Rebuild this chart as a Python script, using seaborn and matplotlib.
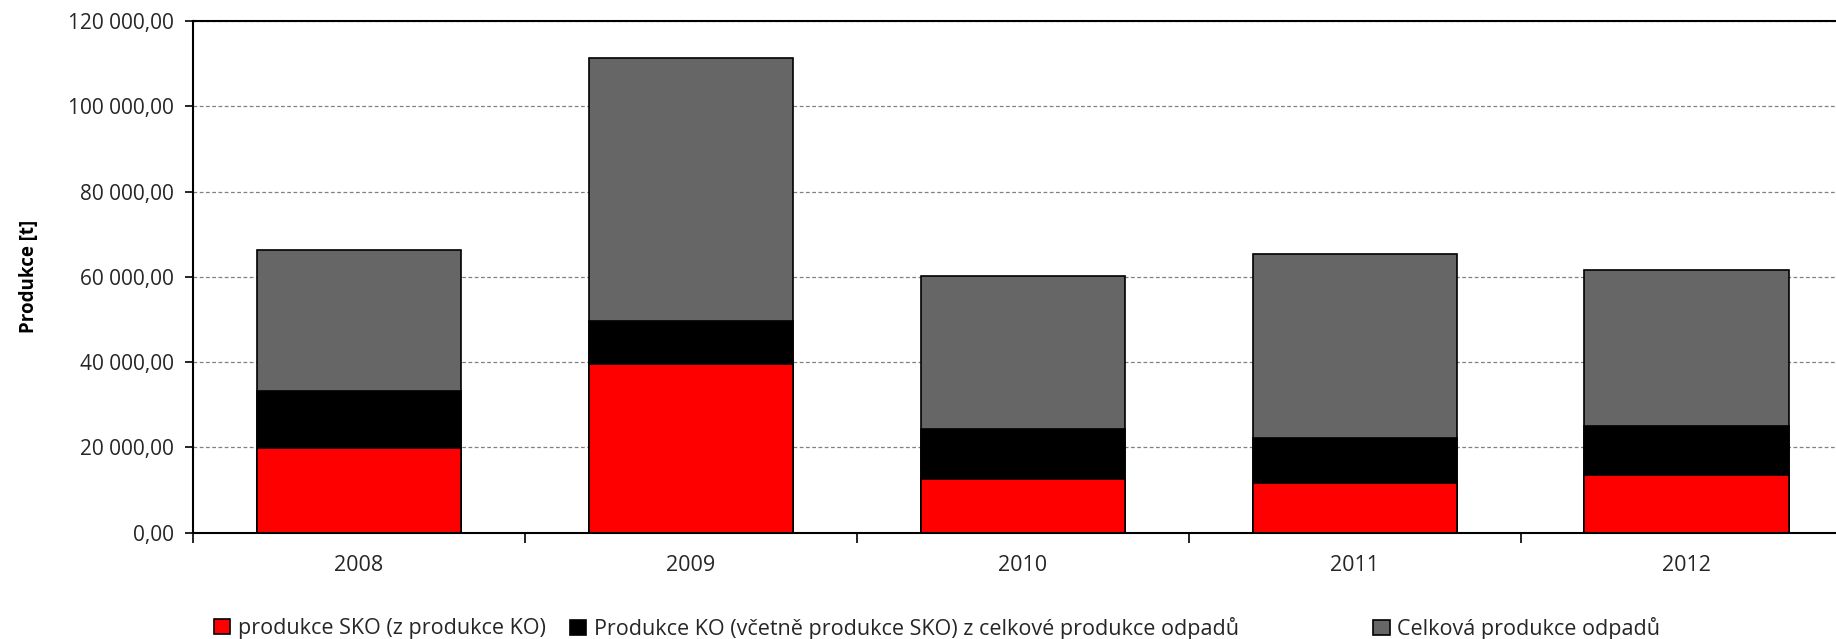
import numpy as np
import pandas as pd
import matplotlib.pyplot as plt
import seaborn as sns
from matplotlib.ticker import FuncFormatter, FixedLocator
from matplotlib.patches import Patch

years = ["2008", "2009", "2010", "2011", "2012"]
celkem = [66200, 111300, 60200, 65400, 61500]
ko = [33200, 49700, 24400, 22200, 25000]
sko = [19800, 39600, 12600, 11500, 13400]
labels = ["produkce SKO (z produkce KO)",
          "Produkce KO (včetně produkce SKO) z celkové produkce odpadů",
          "Celková produkce odpadů"]
colors = ["#ff0000", "#000000", "#666666"]

sns.set_style("white")
plt.rcParams['font.family'] = ['Open Sans', 'DejaVu Sans']

fig = plt.figure(figsize=(18.36, 6.39), dpi=100)
ax = fig.add_axes([165 / 1568, 1 - 455 / 546, (1582 - 165) / 1568, (455 - 18) / 546])

df = pd.DataFrame({"rok": years, "celkem": celkem, "ko": ko, "sko": sko})
for col, c in zip(["celkem", "ko", "sko"], colors[::-1]):
    sns.barplot(data=df, x="rok", y=col, color=c, width=0.615, edgecolor="black",
                linewidth=1.2, saturation=1, ax=ax)

ax.set_ylim(0, 120000)
ax.set_xlim(-0.5, 4.5)
ax.set_yticks(np.arange(0, 120001, 20000))
ax.yaxis.set_major_formatter(FuncFormatter(
    lambda v, p: f"{v:,.2f}".replace(",", " ").replace(".", ",")))
ax.yaxis.grid(True, linestyle=(0, (3, 2)), color="#808080", linewidth=0.9)
ax.set_axisbelow(True)
ax.set_xlabel("")
ax.set_ylabel("Produkce [t]", fontsize=13.5, fontweight="bold", labelpad=21,
              color="black")
ax.tick_params(axis="y", labelsize=15, direction="out", length=6, width=1.2,
               left=True, color="black", pad=8)
ax.tick_params(axis="x", which="major", labelsize=15.5, length=0, pad=16)
ax.xaxis.set_minor_locator(FixedLocator(np.arange(-0.5, 5, 1)))
ax.tick_params(axis="x", which="minor", direction="out", length=7, width=1.2,
               bottom=True, color="black")
for s in ["left", "bottom", "top"]:
    ax.spines[s].set_color("black")
    ax.spines[s].set_linewidth(1.5)
ax.spines["right"].set_visible(False)

# legend entries placed one by one, like the spaced-out Excel legend
leg_x = [183, 487, 1173]
for c, l, x in zip(colors, labels, leg_x):
    h = Patch(facecolor=c, edgecolor="black", linewidth=1.2, label=l)
    lg = fig.legend(handles=[h], loc="center left", bbox_to_anchor=(x / 1568, 1 - 537 / 546),
                    frameon=False, fontsize=15.5, handlelength=0.75, handleheight=0.75,
                    handletextpad=0.35, borderpad=0, borderaxespad=0)

fig.savefig("out.png", dpi=100)
